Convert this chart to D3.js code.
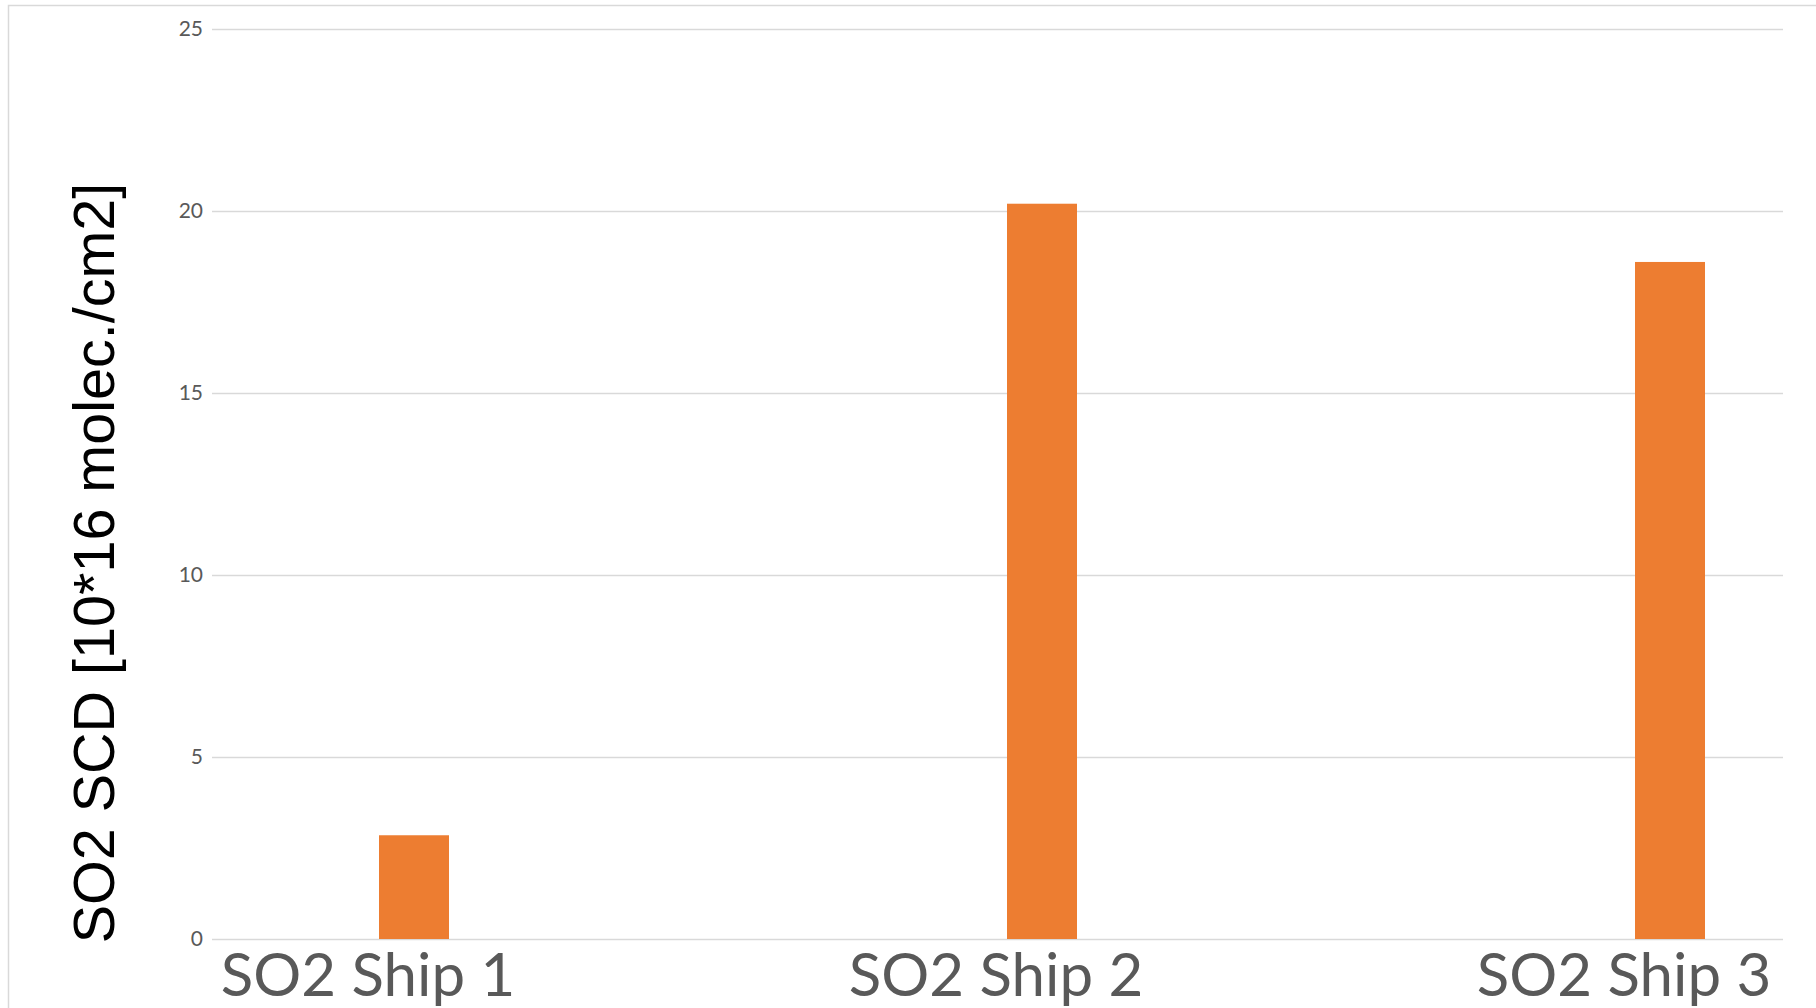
<!DOCTYPE html>
<html>
<head>
<meta charset="utf-8">
<script src="https://cdnjs.cloudflare.com/ajax/libs/d3/7.8.5/d3.min.js"></script>
<style>
  body { margin: 0; background: #fff; }
  svg { display: block; }
</style>
</head>
<body>
<div id="chart"></div>
<script>
// ===========Data
var categories = ["SO2 Ship 1", "SO2 Ship 2", "SO2 Ship 3"];
var so2Values = [2.85, 20.2, 18.6];
var yTicks = [0, 5, 10, 15, 20, 25];
var yTitle = "SO2 SCD [10*16 molec./cm2]";

// ===========Set Height, Width and Margins
var svgWidth = 1816;
var svgHeight = 1008;

var svg = d3.select("#chart").append("svg")
    .attr("width", svgWidth)
    .attr("height", svgHeight);

// outer chart frame (cropped on right / bottom)
svg.append("rect")
    .attr("x", 8.5)
    .attr("y", 5.5)
    .attr("width", 1900)
    .attr("height", 1100)
    .attr("fill", "#fff")
    .attr("stroke", "#d9d9d9")
    .attr("stroke-width", 1.5);

// ===========Scales
var plotLeft = 212, plotRight = 1783;

var yScale = d3.scaleLinear()
    .domain([0, 25])
    .range([939, 29]);

var xScale = d3.scalePoint()
    .domain(categories)
    .range([414, 1670]);

var barWidth = 70;

// ===========Gridlines + y axis labels
var yAxis = d3.axisLeft(yScale)
    .tickValues(yTicks)
    .tickSize(-(plotRight - plotLeft))
    .tickPadding(9);

var yAxisGroup = svg.append("g")
    .attr("transform", `translate(${plotLeft}, 0)`)
    .call(yAxis);

yAxisGroup.select(".domain").remove();
yAxisGroup.selectAll(".tick line")
    .attr("stroke", "#d9d9d9")
    .attr("stroke-width", 1.5);
yAxisGroup.selectAll(".tick text")
    .attr("fill", "#595959")
    .attr("font-family", "Lato, 'Open Sans', sans-serif")
    .attr("font-size", "21px");

// ===========Bars
svg.append("g").selectAll("rect")
    .data(so2Values)
    .enter()
    .append("rect")
    .attr("x", (d, i) => xScale(categories[i]) - barWidth / 2)
    .attr("y", d => yScale(d))
    .attr("width", barWidth)
    .attr("height", d => yScale(0) - yScale(d))
    .attr("fill", "#ED7D31");

// ===========Category labels
svg.append("g").selectAll("text")
    .data(categories)
    .enter()
    .append("text")
    .attr("x", d => xScale(d) - 46)
    .attr("y", 996)
    .attr("text-anchor", "middle")
    .attr("fill", "#595959")
    .attr("font-family", "Lato, 'Open Sans', sans-serif")
    .attr("font-size", "60px")
    .text(d => d);

// ===========Y axis title
svg.append("text")
    .attr("transform", "rotate(-90)")
    .attr("x", -563)
    .attr("y", 114)
    .attr("text-anchor", "middle")
    .attr("fill", "#000")
    .attr("font-family", "'Liberation Sans', Arial, sans-serif")
    .attr("font-size", "57.5px")
    .text(yTitle);
</script>
</body>
</html>
